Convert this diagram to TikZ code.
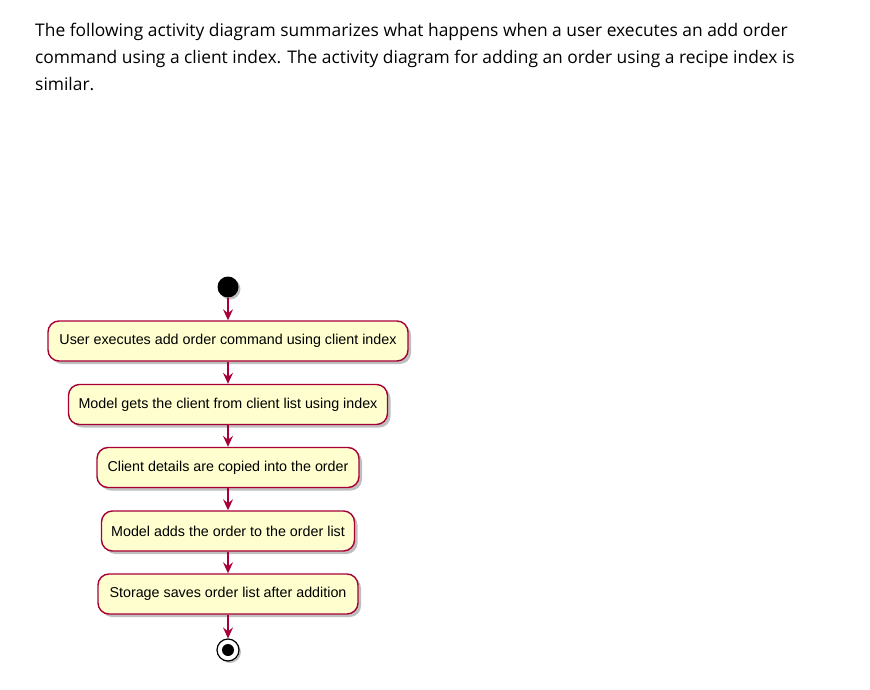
\documentclass[tikz,border=0pt]{standalone}
\usepackage{fontspec}
\setmainfont{Open Sans}
\newfontfamily\boxfont{Liberation Sans}
\usetikzlibrary{shadows,arrows.meta}
\definecolor{umlred}{HTML}{A80036}
\definecolor{umlfill}{HTML}{FEFECE}
\begin{document}
\begin{tikzpicture}[x=1pt,y=-1pt,
  para/.style={anchor=base west,inner sep=0pt,font=\fontsize{17.4}{20}\selectfont},
  act/.style={draw=umlred,fill=umlfill,line width=1.4pt,rounded corners=11pt,
    minimum height=40pt,inner sep=0pt,font=\boxfont\fontsize{14.3}{16}\selectfont,
    drop shadow={shadow xshift=3pt,shadow yshift=-3pt,fill=black,opacity=0.25}},
  flow/.style={draw=umlred,line width=1.3pt,-{Stealth[length=11pt,width=10pt,inset=4pt]}}
]
\useasboundingbox (0,0) rectangle (870,690);
\fill[white] (0,0) rectangle (870,690);
\node[para] (l1) at (35,37) {The following activity diagram summarizes what happens when a user executes an add order};
\node[para] (l2) at (35,64) {command using a client index. The activity diagram for adding an order using a recipe index is};
\node[para] (l3) at (35,91) {similar.};

\node[circle,fill=black,minimum size=21pt,inner sep=0pt,
  drop shadow={shadow xshift=2pt,shadow yshift=-2pt,fill=black,opacity=0.25}] (start) at (228,287) {};
\node[act,minimum width=360pt] (a1) at (228,341) {User executes add order command using client index};
\node[act,minimum width=319pt] (a2) at (228,404.5) {Model gets the client from client list using index};
\node[act,minimum width=262pt] (a3) at (228,467.5) {Client details are copied into the order};
\node[act,minimum width=253pt] (a4) at (228,531) {Model adds the order to the order list};
\node[act,minimum width=260pt] (a5) at (228,594) {Storage saves order list after addition};
\node[circle,draw=black,fill=white,line width=1.2pt,minimum size=22pt,inner sep=0pt,
  drop shadow={shadow xshift=2pt,shadow yshift=-2pt,fill=black,opacity=0.25}] (stop) at (228,650) {};
\node[circle,fill=black,minimum size=12pt,inner sep=0pt] (stopdot) at (stop.center) {};

\draw[flow] (start) -- (a1);
\draw[flow] (a1) -- (a2);
\draw[flow] (a2) -- (a3);
\draw[flow] (a3) -- (a4);
\draw[flow] (a4) -- (a5);
\draw[flow] (a5) -- (stop);
\end{tikzpicture}
\end{document}
